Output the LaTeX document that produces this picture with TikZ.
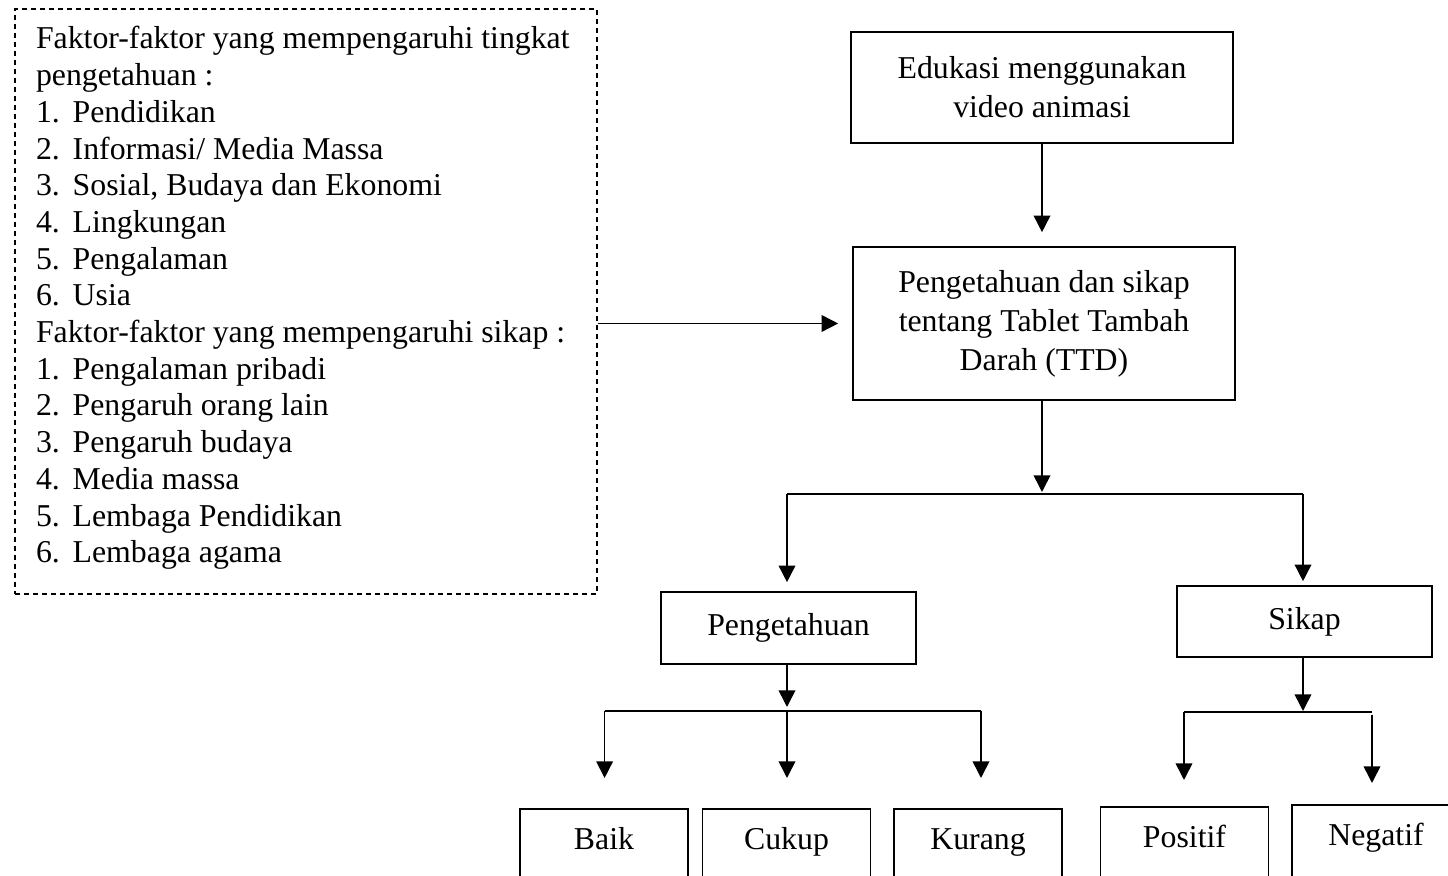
\documentclass[tikz,border=0pt]{standalone}
\usepackage{fontspec}
\setmainfont{Liberation Serif}
\usetikzlibrary{arrows.meta}
\newcommand\myfs{\fontsize{15.9}{19.5}\selectfont}
\newcommand\num[1]{\makebox[18.35pt][l]{#1}}
\tikzset{
  box/.style={draw, line width=0.8pt, rectangle, inner sep=0pt, align=center, font=\myfs},
  btmbox/.style={box, anchor=north, minimum width=84pt, text height=20.5pt, text depth=35pt},
  arr/.style={line width=0.8pt, -{Triangle[length=8.3pt,width=8.3pt]}},
  ln/.style={line width=0.8pt},
  txt/.style={anchor=base west, inner sep=0pt, font=\myfs},
}
\begin{document}
\begin{tikzpicture}[x=0.5pt,y=-0.5pt]
\useasboundingbox (0,0) rectangle (1448,876);
\clip (0,0) rectangle (1448,876);

% dashed factor box
\node[draw, dash pattern=on 2.5pt off 2pt, line width=0.6pt, minimum width=291pt, minimum height=292.5pt, inner sep=0pt] (factors) at (306,301.5) {};
\node[txt] (t1)  at (35.6,49)    {Faktor-faktor yang mempengaruhi tingkat};
\node[txt] (t2)  at (35.6,85.7)  {pengetahuan :};
\node[txt] (t3)  at (35.6,122.4) {\num{1.}Pendidikan};
\node[txt] (t4)  at (35.6,159.1) {\num{2.}Informasi/ Media Massa};
\node[txt] (t5)  at (35.6,195.8) {\num{3.}Sosial, Budaya dan Ekonomi};
\node[txt] (t6)  at (35.6,232.5) {\num{4.}Lingkungan};
\node[txt] (t7)  at (35.6,269.2) {\num{5.}Pengalaman};
\node[txt] (t8)  at (35.6,305.9) {\num{6.}Usia};
\node[txt] (t9)  at (35.6,342.6) {Faktor-faktor yang mempengaruhi sikap :};
\node[txt] (t10) at (35.6,379.3) {\num{1.}Pengalaman pribadi};
\node[txt] (t11) at (35.6,416)   {\num{2.}Pengaruh orang lain};
\node[txt] (t12) at (35.6,452.7) {\num{3.}Pengaruh budaya};
\node[txt] (t13) at (35.6,489.4) {\num{4.}Media massa};
\node[txt] (t14) at (35.6,526.1) {\num{5.}Lembaga Pendidikan};
\node[txt] (t15) at (35.6,562.8) {\num{6.}Lembaga agama};

% main boxes
\node[box, minimum width=191pt, minimum height=55.5pt] (edu) at (1042,87.5) {Edukasi menggunakan\\video animasi};
\node[box, minimum width=191pt, minimum height=76.5pt] (ttd) at (1044,323.5) {Pengetahuan dan sikap\\tentang Tablet Tambah\\Darah (TTD)};
\node[box, minimum width=127.5pt, minimum height=36pt] (peng) at (788.5,628) {Pengetahuan};
\node[box, minimum width=127.5pt, minimum height=35.5pt] (sikap) at (1304.5,621.5) {Sikap};

\node[btmbox] (baik)    at (604,808)    {Baik};
\node[btmbox] (cukup)   at (786.5,808)  {Cukup};
\node[btmbox] (kurang)  at (978,808)    {Kurang};
\node[btmbox] (positif) at (1184.5,806) {Positif};
\node[btmbox] (negatif) at (1376,804)   {Negatif};

% junction coordinates
\coordinate (j1)  at (1042,494);
\coordinate (j1l) at (787,494);
\coordinate (j1r) at (1303,494);
\coordinate (j2)  at (787,711);
\coordinate (j2l) at (604.6,711);
\coordinate (j2r) at (981,711);
\coordinate (j3)  at (1303,712);
\coordinate (j3l) at (1184,712);
\coordinate (j3r) at (1372,712);

% connectors
\draw[arr, shorten >=7pt] (factors.east |- ttd.west) -- (ttd.west);
\draw[arr, shorten >=7pt] (edu.south -| j1) -- (ttd.north -| j1);
\draw[arr, shorten >=1pt] (ttd.south -| j1) -- (j1);
\draw[ln] (j1l) -- (j1r);
\draw[arr, shorten >=4.5pt] (j1l) -- (peng.north -| j1l);
\draw[arr, shorten >=2pt] (j1r) -- (sikap.north -| j1r);

\draw[arr, shorten >=2pt] (peng.south -| j2) -- (j2);
\draw[ln] (j2l) -- (j2r);
\draw[arr, shorten >=15pt] (j2l) -- (baik.north -| j2l);
\draw[arr, shorten >=15pt] (j2) -- (cukup.north -| j2);
\draw[arr, shorten >=15pt] (j2r) -- (kurang.north -| j2r);

\draw[arr, shorten >=0.5pt] (sikap.south -| j3) -- (j3);
\draw[ln] (j3l) -- (j3r);
\draw[arr, shorten >=13pt] (j3l) -- (positif.north -| j3l);
\draw[arr, shorten >=10.5pt, shorten <=1.5pt] (j3r) -- (negatif.north -| j3r);
\end{tikzpicture}
\end{document}
